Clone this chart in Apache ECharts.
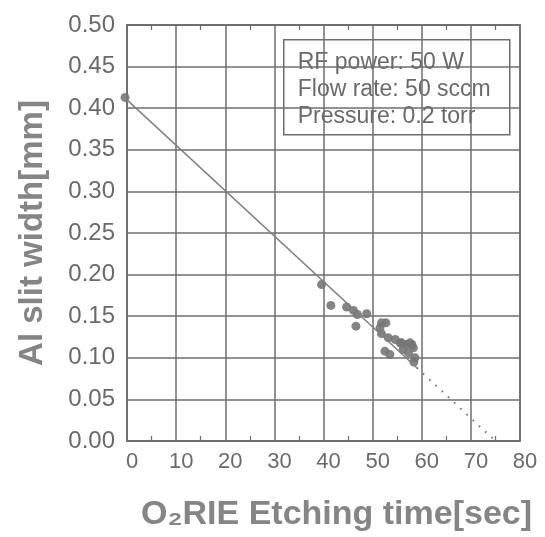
<!DOCTYPE html>
<html>
<head>
<meta charset="utf-8">
<script src="https://cdn.jsdelivr.net/npm/echarts@6/dist/echarts.min.js"></script>
<style>
html,body{margin:0;padding:0;background:#fff;}
#chart{width:545px;height:537px;}
</style>
</head>
<body>
<div id="chart"></div>
<script>
// Data
var xTicks = [0, 10, 20, 30, 40, 50, 60, 70, 80];
var yTicks = ['0.00','0.05','0.10','0.15','0.20','0.25','0.30','0.35','0.40','0.45','0.50'];
var etchTime = [-0.4, 39.6, 41.5, 44.7, 46.1, 46.6, 46.9, 48.8, 51.5, 51.8, 51.8, 52.7, 53.2, 52.5, 53.5, 54.6, 55.6, 55.9, 56.2, 56.9, 57.6, 58.0, 58.3, 57.3, 58.6, 58.4];
var slitWidth = [0.413, 0.188, 0.163, 0.161, 0.157, 0.138, 0.152, 0.153, 0.136, 0.142, 0.129, 0.142, 0.124, 0.108, 0.104, 0.122, 0.118, 0.118, 0.110, 0.116, 0.118, 0.116, 0.112, 0.106, 0.100, 0.095];
var fitSolidX = [0, 59];
var fitSolidY = [0.41, 0.088];
var fitDottedX = [59, 75];
var fitDottedY = [0.088, 0.0];
var noteLines = ['RF power: 50 W', 'Flow rate: 50 sccm', 'Pressure: 0.2 torr'];
var xTitle = 'O\u2082RIE Etching time[sec]';
var yTitle = 'Al slit width[mm]';

function pairs(xs, ys){ return xs.map(function(x,i){ return [x, ys[i]]; }); }

var gridColor = '#6e6e6e';
var labelColor = '#6a6a6a';
var titleColor = '#858585';
var font = '"Liberation Sans", Arial, sans-serif';

var chart = echarts.init(document.getElementById('chart'), null, {renderer:'canvas'});
var xAxisBase = {
  type: 'value', min: 0, max: 80, interval: 10,
  axisLine: {show: true, lineStyle: {color: gridColor, width: 1.5}},
  axisTick: {show: false, inside: true},
  minorTick: {show: true, splitNumber: 2, length: 5, lineStyle: {color: gridColor, width: 1.2}},
  splitLine: {show: true, lineStyle: {color: gridColor, width: 1.5}}
};
var option = {
  animation: false,
  backgroundColor: '#fff',
  grid: {left: 127, right: 25, top: 25, bottom: 91, show: true, borderColor: gridColor, borderWidth: 1.5, containLabel: false},
  xAxis: [
    Object.assign({}, xAxisBase, {
      position: 'bottom',
      axisLabel: {show: true, color: labelColor, fontSize: 22, fontFamily: font, margin: 10,
        padding: [0, 0, 0, 10],
        formatter: function(v){ return xTicks.indexOf(v) >= 0 ? String(v) : ''; }},
      name: xTitle, nameLocation: 'middle', nameGap: 57,
      nameTextStyle: {color: titleColor, fontSize: 34, fontWeight: 'bold', fontFamily: font, padding: [0, 0, 0, 26]}
    }),
    Object.assign({}, xAxisBase, {
      position: 'top',
      axisLabel: {show: false},
      splitLine: {show: false}
    })
  ],
  yAxis: {
    type: 'value', min: 0, max: 0.5, interval: 0.05,
    axisLine: {show: true, lineStyle: {color: gridColor, width: 1.5}},
    axisTick: {show: false},
    splitLine: {show: true, lineStyle: {color: gridColor, width: 1.5}},
    axisLabel: {color: labelColor, fontSize: 24, fontFamily: font, margin: 12,
      formatter: function(v){ var i = Math.round(v/0.05); return yTicks[i] || ''; }},
    name: yTitle, nameLocation: 'middle', nameGap: 78,
    nameTextStyle: {color: titleColor, fontSize: 33, fontWeight: 'bold', fontFamily: font}
  },
  series: [
    {
      type: 'line', data: pairs(fitSolidX, fitSolidY), symbol: 'none',
      lineStyle: {color: '#808080', width: 1.5}, silent: true
    },
    {
      type: 'line', data: pairs(fitDottedX, fitDottedY), symbol: 'none',
      lineStyle: {color: '#707070', width: 2, type: [1.5, 7]}, silent: true
    },
    {
      type: 'scatter', data: pairs(etchTime, slitWidth), symbol: 'circle', symbolSize: 9,
      clip: false,
      itemStyle: {color: '#777777', opacity: 0.9}
    }
  ],
  graphic: [
    {
      type: 'group', left: 283, top: 39,
      children: [
        {type: 'rect', shape: {x: 0, y: 0, width: 226, height: 95},
          style: {fill: '#fff', stroke: gridColor, lineWidth: 1.5}},
        {type: 'text', left: 14, top: 11, style: {text: noteLines[0], fill: labelColor, fontSize: 23, fontFamily: font}},
        {type: 'text', left: 14, top: 38, style: {text: noteLines[1], fill: labelColor, fontSize: 23, fontFamily: font}},
        {type: 'text', left: 14, top: 65, style: {text: noteLines[2], fill: labelColor, fontSize: 23, fontFamily: font}}
      ]
    }
  ]
};
chart.setOption(option);
</script>
</body>
</html>
